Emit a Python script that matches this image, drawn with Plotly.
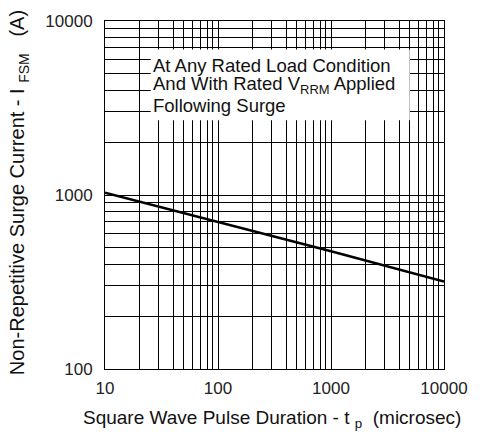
import plotly.graph_objects as go

# Data
pulse_us = [10, 100, 1000, 10000]
surge_a = [1030, 700, 475, 318]

x_decades = [10, 100, 1000, 10000]
y_decades = [100, 1000, 10000]

def log_ticks(decades):
    vals, text = [], []
    for d in decades[:-1]:
        for m in range(1, 10):
            vals.append(d * m)
            text.append(str(d) if m == 1 else "")
    vals.append(decades[-1])
    text.append(str(decades[-1]))
    return vals, text

xv, xt = log_ticks(x_decades)
yv, yt = log_ticks(y_decades)

FONT = "Liberation Sans, Arial, sans-serif"

fig = go.Figure()
fig.add_trace(go.Scatter(x=pulse_us, y=surge_a, mode="lines",
                         line=dict(color="#000000", width=2.6),
                         showlegend=False, hoverinfo="skip"))

fig.update_xaxes(type="log", range=[1, 4], tickvals=xv, ticktext=xt,
                 showgrid=True, gridcolor="#000000", gridwidth=1,
                 showline=True, linecolor="#000000", linewidth=1, mirror=True,
                 ticks="", zeroline=False, ticklabelstandoff=4,
                 ticklabeloverflow="allow",
                 tickfont=dict(family=FONT, size=17, color="#222222"))
fig.update_yaxes(type="log", range=[2, 4], tickvals=yv, ticktext=yt,
                 showgrid=True, gridcolor="#000000", gridwidth=1,
                 showline=True, linecolor="#000000", linewidth=1, mirror=True,
                 ticks="", zeroline=False, ticklabelstandoff=8,
                 ticklabeloverflow="allow",
                 tickfont=dict(family=FONT, size=17, color="#222222"))

# White box behind the note
fig.add_shape(type="rect", xref="paper", yref="paper",
              x0=0.135, x1=0.899, y0=0.715, y1=0.918,
              fillcolor="white", line=dict(width=0), layer="above")

notes = ["At Any Rated Load Condition",
         "And With Rated V<sub>RRM</sub> Applied",
         "Following Surge"]
note_y = [0.873, 0.816, 0.757]
for t, yy in zip(notes, note_y):
    fig.add_annotation(text=t, xref="paper", yref="paper", x=0.135, y=yy,
                       xanchor="left", yanchor="middle", showarrow=False,
                       font=dict(family=FONT, size=18.5, color="#111111"))

fig.add_annotation(text="Non-Repetitive Surge Current - I <sub>FSM</sub>   (A)",
                   xref="paper", yref="paper", x=-0.253, y=0.506,
                   textangle=-90, showarrow=False,
                   xanchor="center", yanchor="middle",
                   font=dict(family=FONT, size=20, color="#111111"))
fig.add_annotation(text="Square Wave Pulse Duration - t <sub>p</sub>  (microsec)",
                   xref="paper", yref="paper", x=0.494, y=-0.144,
                   showarrow=False, xanchor="center", yanchor="middle",
                   font=dict(family=FONT, size=19, color="#111111"))

fig.update_layout(width=480, height=439,
                  margin=dict(l=105, r=27, t=15, b=70),
                  paper_bgcolor="white", plot_bgcolor="white")

fig.write_html("out.html", config={"displayModeBar": False},
               post_script="document.body.style.margin='0';document.body.style.overflow='hidden';")
